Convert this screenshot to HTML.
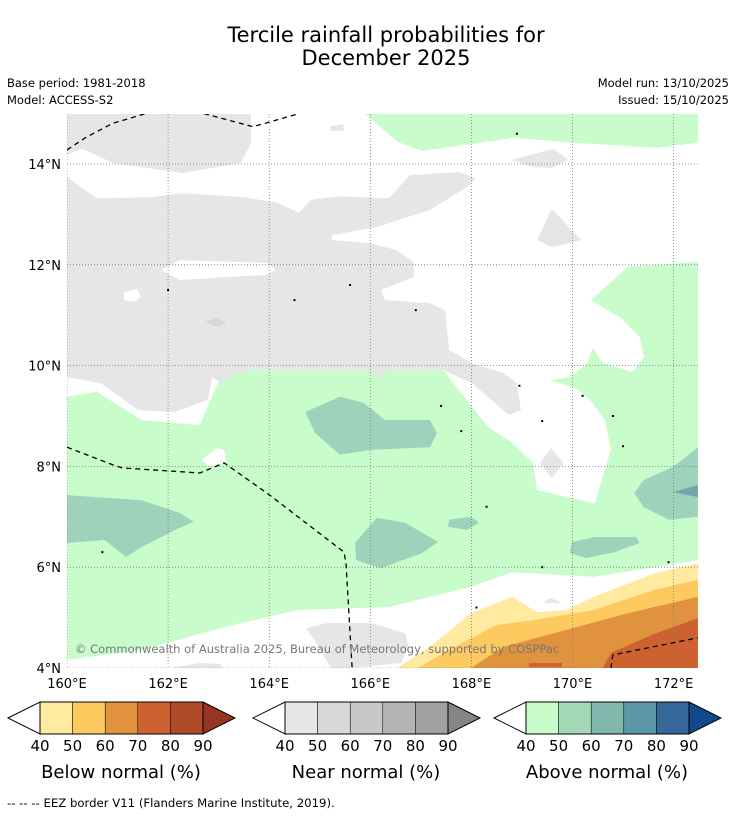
<!DOCTYPE html>
<html><head><meta charset="utf-8"><style>
html,body{margin:0;padding:0;background:#fff;width:736px;height:816px;overflow:hidden}
svg{display:block;font-family:"DejaVu Sans","Liberation Sans",sans-serif}
</style></head><body>
<svg id="s" width="736" height="816" viewBox="0 0 736 816">
<text x="386" y="42" font-size="21" text-anchor="middle">Tercile rainfall probabilities for</text>
<text x="386" y="65" font-size="21" text-anchor="middle">December 2025</text>
<text x="7" y="87" font-size="11.5">Base period: 1981-2018</text>
<text x="7" y="104" font-size="11.5">Model: ACCESS-S2</text>
<text x="729" y="87" font-size="11.5" text-anchor="end">Model run: 13/10/2025</text>
<text x="729" y="104" font-size="11.5" text-anchor="end">Issued: 15/10/2025</text>
<g id="map"></g>
<g id="cb"></g>
<text x="7" y="807" font-size="11.7">--  --  -- EEZ border V11 (Flanders Marine Institute, 2019).</text>
</svg>
<script>
const lonTicks=[160,162,164,166,168,170,172];
const latTicks=[4,6,8,10,12,14];
const grayA=[[160,15],[163.64,15],[163.64,14.42],[163.44,14.02],[162.29,13.82],[160.91,14.02],[160.3,14.3],[160,14.18]];
const grayB=[[160,13.74],[160.59,13.32],[161.64,13.34],[162.29,13.42],[163.52,13.34],[164.17,13.23],[164.59,13.03],[164.83,13.29],[165.4,13.36],[166.37,13.32],[166.78,13.78],[167.75,13.84],[168.09,13.72],[167.91,13.54],[167.18,13.09],[166.13,12.75],[165.24,12.59],[165.24,12.49],[165.97,12.43],[166.53,12.29],[166.86,12.04],[166.86,11.76],[166.21,11.5],[166.29,11.3],[167.18,11.24],[167.48,11.1],[167.56,10.31],[168.01,10.05],[168.64,9.85],[168.9,9.65],[168.98,9.12],[168.74,9.02],[168.01,9.65],[167.44,9.91],[166.37,9.91],[166.17,9.75],[165.97,9.91],[163.6,9.91],[163.03,9.67],[162.87,9.77],[162.79,9.32],[162.14,9.08],[161.4,9.12],[160.67,9.65],[160,9.77]];
const hole1=[[161.86,11.9],[162.22,12.09],[163.94,12.04],[164.13,11.9],[163.94,11.8],[162.22,11.7]];
const hole2=[[161.13,11.46],[161.4,11.52],[161.46,11.36],[161.33,11.26],[161.13,11.3]];
const graySpot=[[162.73,10.86],[162.93,10.96],[163.16,10.86],[162.99,10.76]];
const grayC=[[168.78,14.08],[169.63,14.3],[169.91,14.08],[169.59,13.92],[169.22,13.94]];
const grayD=[[169.59,13.11],[170.17,12.49],[169.59,12.35],[169.3,12.49]];
const grayE=[[165.2,14.75],[165.46,14.79],[165.48,14.67],[165.22,14.65]];
const greenTop=[[165.89,15],[172.48,15],[172.48,14.42],[171.67,14.32],[170.03,14.42],[168.82,14.52],[168.33,14.44],[167.02,14.26],[166.53,14.44],[166.05,14.87]];
const greenMain=[[160,9.38],[160.59,9.48],[161.48,8.92],[162.63,8.82],[162.99,9.67],[163.6,9.91],[167.44,9.91],[168.33,8.78],[168.82,8.46],[169.22,8.07],[169.3,7.53],[170.44,7.27],[170.76,8.33],[170.64,8.92],[170.35,9.32],[170.05,9.56],[169.55,9.71],[169.95,9.77],[170.29,10.05],[170.4,10.35],[170.6,10.05],[171.18,9.87],[171.41,10.17],[171.33,10.57],[170.94,10.96],[170.36,11.3],[171.1,11.96],[172.48,12.06],[172.48,6.14],[171.63,6.0],[170.42,5.81],[168.8,5.9],[167.99,5.61],[166.37,5.21],[164.57,5.15],[163.11,4.81],[161.48,4.36],[160,4.16]];
const grayDiamond=[[169.57,8.36],[169.83,8.07],[169.59,7.77],[169.36,8.07]];
const whitePatch=[[162.67,8.13],[162.95,8.36],[163.11,8.33],[163.15,8.07],[162.79,7.99]];
const teal1=[[164.71,9.08],[165.4,9.38],[165.87,9.26],[166.29,8.92],[167.18,8.92],[167.32,8.66],[167.18,8.38],[166.03,8.33],[165.4,8.23],[164.91,8.66]];
const teal2=[[160,7.43],[161.48,7.33],[162.22,7.08],[162.51,6.9],[162.14,6.74],[161.48,6.4],[161.17,6.2],[160.75,6.54],[160,6.48]];
const teal3=[[166.13,6.98],[166.69,6.88],[167.34,6.5],[167.02,6.28],[166.21,5.98],[165.72,6.14],[165.7,6.48]];
const teal4=[[167.56,6.94],[167.99,7.0],[168.15,6.88],[167.91,6.74],[167.54,6.8]];
const teal5=[[169.99,6.5],[170.44,6.6],[171.26,6.6],[171.33,6.48],[170.84,6.3],[170.27,6.18],[169.95,6.28]];
const teal6=[[172.48,8.38],[171.99,7.99],[171.41,7.73],[171.22,7.47],[171.41,7.19],[171.91,6.94],[172.48,7.0]];
const teal6dark=[[171.99,7.49],[172.48,7.63],[172.48,7.39]];
const grayBottom=[[164.73,4.79],[165.14,4.89],[166.03,4.89],[166.69,4.69],[166.76,4.42],[166.61,4.1],[165.56,4],[165.22,4],[164.98,4.42]];
const graySmall=[[162.06,4],[162.63,4.1],[163.03,4.08],[163.07,4]];
const grayBlob=[[169.42,5.29],[169.57,5.39],[169.79,5.29]];
const below40=[[166.53,4],[167.18,4.42],[167.99,5.09],[168.8,5.41],[169.3,5.11],[169.87,5.15],[170.42,5.41],[171.63,5.88],[172.48,6.08],[172.48,4]];
const below50=[[166.94,4],[167.67,4.42],[168.49,4.85],[169.22,4.95],[170.42,5.15],[171.63,5.55],[172.48,5.75],[172.48,4]];
const below60=[[167.99,4],[168.64,4.42],[169.63,4.69],[171.1,5.09],[172.48,5.41],[172.48,4]];
const below70=[[170.6,4],[170.76,4.3],[171.65,4.69],[172.48,4.99],[172.48,4]];
const below70strip=[[169.14,4.1],[169.79,4.1],[169.79,4.02],[169.14,4.02]];
const eez1=[[160,14.28],[160.36,14.52],[160.91,14.81],[161.56,15]];
const eez2=[[162.71,15],[163.68,14.74],[164.59,15]];
const eez3=[[160,8.38],[160.91,8.03],[161.09,7.97],[162.63,7.87],[163.11,8.07],[164.01,7.43],[165.48,6.3],[165.52,6.08],[165.64,4]];
const eez4=[[170.76,4],[170.8,4.26],[172.48,4.6]];
const islands=[[164.5,11.3],[162.0,11.5],[165.6,11.6],[166.9,11.1],[168.95,9.6],[169.4,8.9],[167.4,9.2],[167.8,8.7],[168.3,7.2],[171.0,8.4],[170.2,9.4],[170.8,9.0],[169.4,6.0],[168.1,5.2],[171.9,6.1],[160.7,6.3],[168.9,14.6]];
const legendTicks=["40","50","60","70","80","90"];
const belowColors=["#ffeaa0","#fdca60","#e0923f","#cd6230","#ae4a27","#963520"];
const nearColors=["#e6e6e6","#d8d8d8","#c8c8c8","#b3b3b3","#a0a0a0","#858585"];
const aboveColors=["#c9fccb","#a4d9b8","#80b8ae","#5b97a6","#356799","#114a8a"];
const legendTitles=["Below normal (%)","Near normal (%)","Above normal (%)"];

const NS="http://www.w3.org/2000/svg";
const X0=67,Y0=668,PX=50.55,PY=50.4,XR=698,YT=114;
function X(lon){return X0+(lon-160)*PX;}
function Y(lat){return Y0-(lat-4)*PY;}
function mk(tag,attrs,parent){const e=document.createElementNS(NS,tag);for(const k in attrs)e.setAttribute(k,attrs[k]);parent.appendChild(e);return e;}
function pts(a){return a.map(p=>X(p[0]).toFixed(1)+","+Y(p[1]).toFixed(1)).join(" ");}
const map=document.getElementById('map');
const clip=mk('clipPath',{id:'mc'},map);
mk('rect',{x:X0,y:YT,width:XR-X0,height:Y0-YT},clip);
const g=mk('g',{'clip-path':'url(#mc)'},map);
function poly(a,fill,name){const e=mk('polygon',{points:pts(a),fill:fill},g);


return e;}
poly(greenTop,'#c9fccb','above-normal-40-north');
poly(greenMain,'#c9fccb','above-normal-40-main');
poly(grayA,'#e6e6e6','near-normal-40-northwest');
poly(grayB,'#e6e6e6','near-normal-40-main');
poly(hole1,'#ffffff','no-signal-gap');
poly(hole2,'#ffffff','no-signal-gap-small');
poly(graySpot,'#d8d8d8','near-normal-50-spot');
poly(grayC,'#e6e6e6','near-normal-40-ne');
poly(grayD,'#e6e6e6','near-normal-40-east');
poly(grayE,'#e6e6e6','near-normal-40-north-spot');
poly(grayDiamond,'#e6e6e6','near-normal-40-diamond');
poly(whitePatch,'#ffffff','no-signal-patch');
poly(teal1,'#9fd2bb','above-normal-50-a');
poly(teal2,'#9fd2bb','above-normal-50-b');
poly(teal3,'#9fd2bb','above-normal-50-c');
poly(teal4,'#9fd2bb','above-normal-50-d');
poly(teal5,'#9fd2bb','above-normal-50-e');
poly(teal6,'#9fd2bb','above-normal-50-f');
poly(teal6dark,'#6fa8ac','above-normal-60');
poly(grayBottom,'#e6e6e6','near-normal-40-south');
poly(graySmall,'#e6e6e6','near-normal-40-south-small');
poly(grayBlob,'#e6e6e6','near-normal-40-blob');
poly(below40,'#ffeaa0','below-normal-40');
poly(below50,'#fdca60','below-normal-50');
poly(below60,'#e0923f','below-normal-60');
poly(below70,'#cd6230','below-normal-70');
poly(below70strip,'#cd6230','below-normal-70-strip');
lonTicks.forEach(l=>{const e=mk('line',{x1:X(l),x2:X(l),y1:YT,y2:Y0,stroke:'#777','stroke-width':0.8,'stroke-dasharray':'1,2'},g);


const t=mk('text',{x:X(l),y:Y0+20,'font-size':13,'text-anchor':'middle'},map);t.textContent=l+'°E';

});
latTicks.forEach(l=>{const e=mk('line',{x1:X0,x2:XR,y1:Y(l),y2:Y(l),stroke:'#777','stroke-width':0.8,'stroke-dasharray':'1,2'},g);


const t=mk('text',{x:X0-6,y:Y(l)+5,'font-size':13,'text-anchor':'end'},map);t.textContent=l+'°N';

});
[eez1,eez2,eez3,eez4].forEach((a,i)=>{const e=mk('polyline',{points:pts(a),fill:'none',stroke:'#000','stroke-width':1.3,'stroke-dasharray':'5,4'},g);

});
islands.forEach(p=>{const e=mk('rect',{x:X(p[0])-1,y:Y(p[1])-1,width:2,height:2,fill:'#000'},g);

});
const cp=mk('text',{x:75,y:653,'font-size':11.5,fill:'#777'},map);cp.textContent='© Commonwealth of Australia 2025, Bureau of Meteorology, supported by COSPPac';


const cb=document.getElementById('cb');
const bars=[[8,belowColors],[253,nearColors],[494,aboveColors]];
bars.forEach((b,bi)=>{const x=b[0],cols=b[1],y1=702,y2=734,ym=718,w=163/6,bx=x+32;
const grp=mk('g',{},cb);


const la=mk('polygon',{points:`${x},${ym} ${bx},${y1} ${bx},${y2}`,fill:'#fff',stroke:'#000','stroke-width':1},grp);


for(let i=0;i<5;i++){const r=mk('rect',{x:bx+i*w*6/5,y:y1,width:w*6/5,height:y2-y1,fill:cols[i],stroke:'#000','stroke-width':0.5},grp);

}
const ex=bx+163;
const ra=mk('polygon',{points:`${ex},${y1} ${ex+32},${ym} ${ex},${y2}`,fill:cols[5],stroke:'#000','stroke-width':1},grp);


mk('rect',{x:bx,y:y1,width:163,height:y2-y1,fill:'none',stroke:'#000','stroke-width':1},grp);
legendTicks.forEach((t,i)=>{const tx=mk('text',{x:bx+i*163/5,y:751,'font-size':15,'text-anchor':'middle'},grp);tx.textContent=t;

});
const tt=mk('text',{x:bx+81,y:778,'font-size':18,'text-anchor':'middle'},grp);tt.textContent=legendTitles[bi];


});
</script>
</body></html>
